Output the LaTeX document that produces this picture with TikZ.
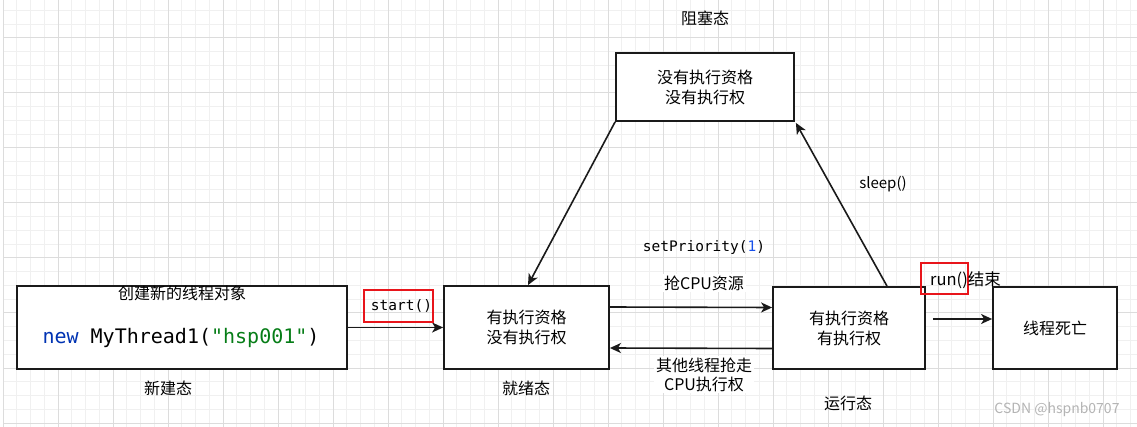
\documentclass[tikz,border=0pt]{standalone}
\usepackage{fontspec}
\setmainfont{Noto Sans CJK SC}
\newfontfamily\cjk{Noto Sans CJK SC}
\newfontfamily\codefont{DejaVu Sans Mono}
\usetikzlibrary{arrows.meta}
\definecolor{gridmajor}{HTML}{DCDCDC}
\definecolor{gridminor}{HTML}{F0F0F0}
\definecolor{kwblue}{HTML}{0033B3}
\definecolor{strgreen}{HTML}{067D17}
\definecolor{numblue}{HTML}{1750EB}
\definecolor{markred}{HTML}{E8151B}
\definecolor{boxline}{HTML}{1A1A1A}
\definecolor{wmgray}{HTML}{B4B4B4}
\tikzset{
  statebox/.style={draw=boxline, line width=1.8pt, fill=white, inner sep=0pt, align=center, font=\cjk\fontsize{16}{20}\selectfont},
  txt/.style={inner sep=1pt, align=center, font=\cjk\fontsize{16}{20}\selectfont},
  lbl/.style={inner sep=2pt, fill=white, align=center, font=\cjk\fontsize{16}{19}\selectfont},
  codetxt/.style={inner sep=1pt, font=\codefont\fontsize{14.5}{17}\selectfont},
  redmark/.style={draw=markred, line width=2pt, inner sep=0pt},
  arr/.style={draw=boxline, line width=1.6pt, -{Stealth[length=11pt,width=10pt,inset=3pt]}},
}
\begin{document}
\begin{tikzpicture}[x=1pt,y=-1pt]
\useasboundingbox (0,0) rectangle (1137,427);
\fill[white] (0,0) rectangle (1137,427);
\begin{scope}
\clip (3,0) rectangle (1137,427);
\foreach \i in {0,...,82} {
  \draw[gridminor, line width=1pt] ({3+13.75*\i},0) -- ({3+13.75*\i},427);
}
\foreach \i in {0,...,32} {
  \draw[gridminor, line width=1pt] (3,{-17+13.75*\i}) -- (1137,{-17+13.75*\i});
}
\foreach \i in {0,...,20} {
  \draw[gridmajor, line width=1pt] ({3+55*\i},0) -- ({3+55*\i},427);
}
\foreach \i in {0,...,8} {
  \draw[gridmajor, line width=1pt] (3,{-17+55*\i}) -- (1137,{-17+55*\i});
}
\end{scope}

% boxes
\node[statebox, minimum width=330pt, minimum height=83pt] (b1) at (182,327.5) {};
\node[statebox, minimum width=165pt, minimum height=83pt] (b2) at (526.5,327.5) {有执行资格\\没有执行权};
\node[statebox, minimum width=152pt, minimum height=82pt] (b3) at (849,328) {有执行资格\\有执行权};
\node[statebox, minimum width=124pt, minimum height=82pt] (b4) at (1055,328) {线程死亡};
\node[statebox, minimum width=178pt, minimum height=68pt] (blk) at (705,87) {没有执行资格\\没有执行权};

% texts inside / near box 1
\node[txt] (t1) at (182,293) {创建新的线程对象};
\node[inner sep=1pt, font=\codefont\fontsize{20}{24}\selectfont] (code) at (181,338)
  {\textcolor{kwblue}{new} MyThread1(\textcolor{strgreen}{"hsp001"})};

% state captions
\node[txt] (s1) at (168,388) {新建态};
\node[txt] (s2) at (526,388) {就绪态};
\node[txt] (s3) at (848,403) {运行态};
\node[txt] (s4) at (705,18) {阻塞态};

% connectors
\draw[arr] (b1) -- (b2);
\draw[arr] ([yshift=20.5pt]b2.east) -- ([yshift=20.5pt]b3.west);
\draw[arr] ([yshift=-20.5pt]b3.west) -- ([yshift=-20.5pt]b2.east);
\draw[arr] ([xshift=7pt,yshift=9pt]b3.east) -- ([yshift=9pt]b4.west);
\draw[arr] ([xshift=38pt]b3.north) -- ([xshift=1pt,yshift=-1pt]blk.south east);
\draw[arr] (blk.south west) -- ([xshift=1.5pt]b2.north);

% labels
\node[redmark, minimum width=69pt, minimum height=32pt] (startbox) at (398.5,306) {};
\node[codetxt] (start) at (401.5,306) {start()};
\node[codetxt] (prio) at (704,248) {setPriority(\textcolor{numblue}{1})};
\node[lbl] (grab) at (704,283) {抢CPU资源};
\node[lbl] (other) at (704,374.5) {其他线程抢走\\CPU执行权};
\node[txt, font=\cjk\fontsize{15}{18}\selectfont] (sleep) at (883,184) {sleep()};
\node[redmark, minimum width=47pt, minimum height=31pt] (runbox) at (944.5,278.5) {};
\node[txt, inner sep=0pt, font=\cjk\fontsize{16.5}{20}\selectfont] (runend) at (965.5,280) {run()结束};
\node[txt, text=wmgray, font=\cjk\fontsize{14}{16}\selectfont] (wm) at (1057,410) {CSDN @hspnb0707};
\end{tikzpicture}
\end{document}
